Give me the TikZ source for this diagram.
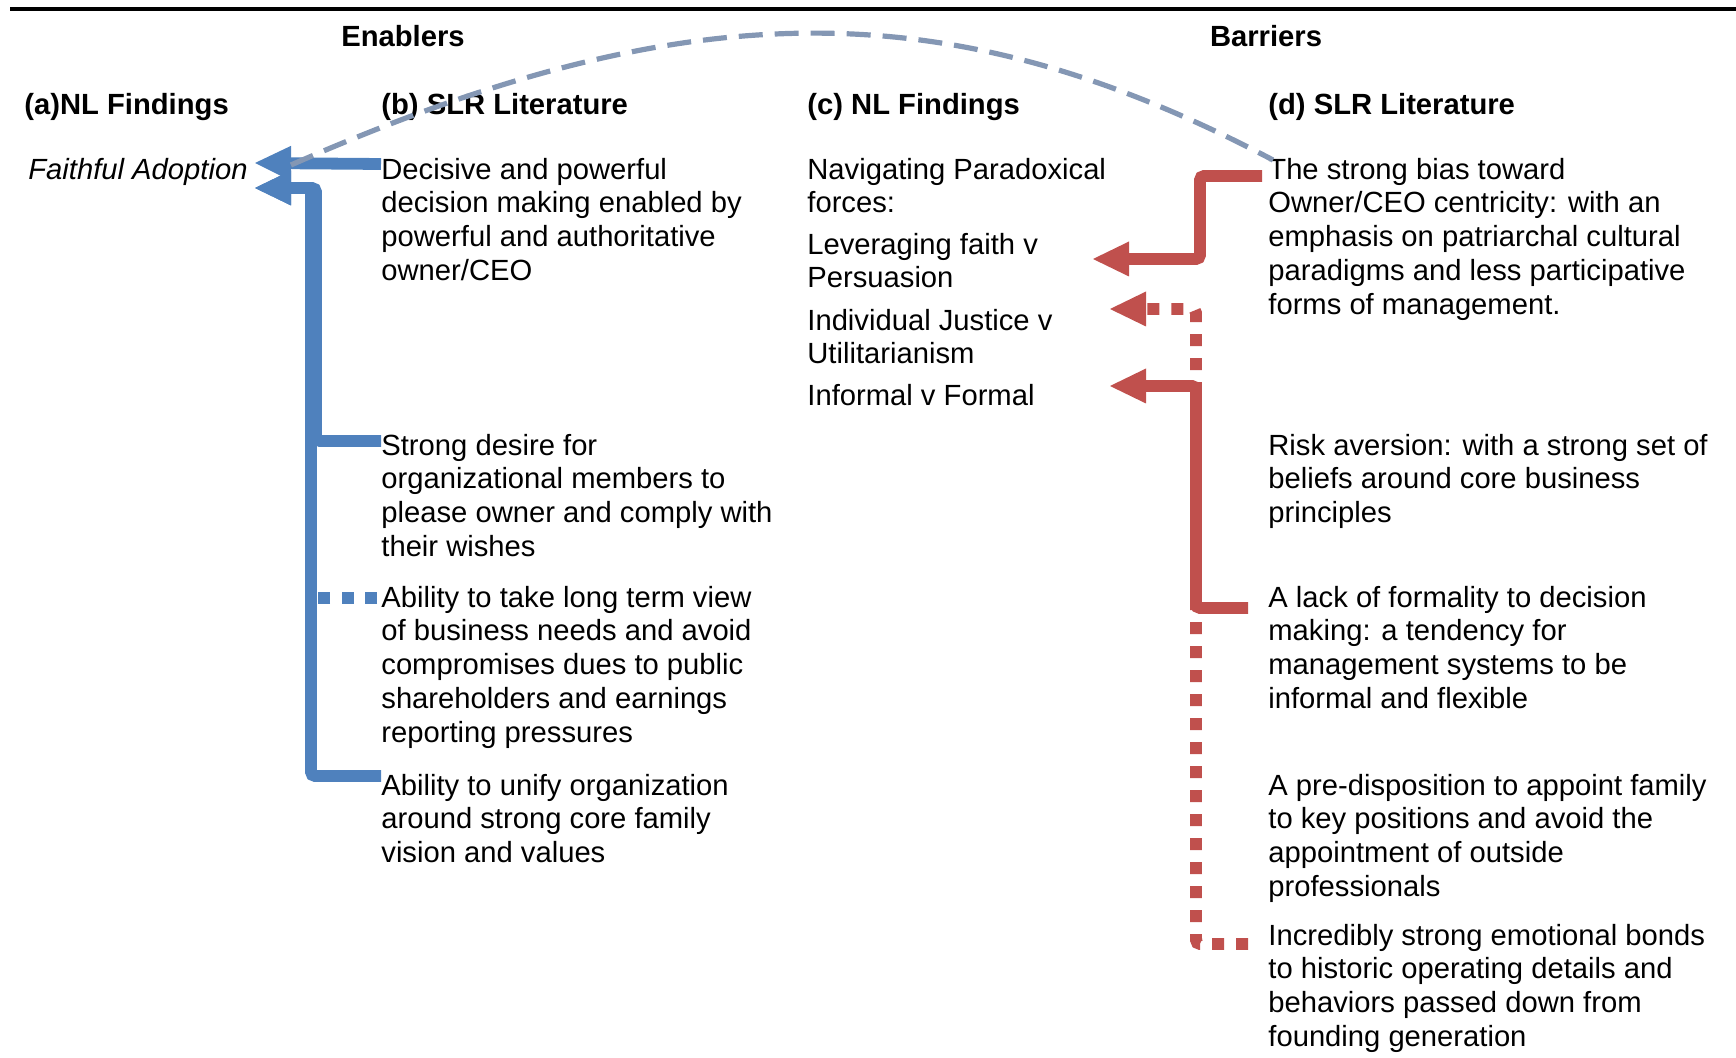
\documentclass[tikz,border=0pt]{standalone}
\usepackage{fontspec}
\setmainfont{Liberation Sans}
\usetikzlibrary{arrows.meta,calc}
\definecolor{enbl}{RGB}{79,129,189}
\definecolor{barr}{RGB}{192,80,77}
\definecolor{linkc}{RGB}{132,151,180}
\tikzset{
  txt/.style={anchor=north west, inner sep=0pt, align=left,
    font=\fontsize{14.6}{16.9}\selectfont},
  head/.style={txt, font=\fontsize{14.6}{16.9}\selectfont\bfseries},
  conn/.style={line width=5.9pt, rounded corners=2pt},
  tipA/.style={-{Triangle[length=18pt,width=17.5pt,line width=0pt]}},
  enarrow/.style={conn, enbl, tipA},
  endots/.style={conn, enbl, dash pattern=on 6pt off 5.75pt},
  bararrow/.style={conn, barr, tipA},
  bardots/.style={conn, barr, tipA, dash pattern=on 6pt off 6pt},
  linkcurve/.style={linkc, line width=2.6pt, dash pattern=on 12pt off 6pt}
}
\begin{document}
\begin{tikzpicture}[x=0.5pt, y=-0.5pt]
\useasboundingbox (0,0) rectangle (1736,1058);

% rule across the top
\draw[line width=1.8pt] (10,9) -- (1736,9);

% group titles
\node[head, anchor=north] (en) at (403,22) {\strut Enablers};
\node[head, anchor=north] (ba) at (1266,22) {\strut Barriers};

% column headings
\node[head] (ha) at (24,90)   {\strut (a)NL Findings};
\node[head] (hb) at (381,90)  {\strut (b) SLR Literature};
\node[head] (hc) at (807,90)  {\strut (c) NL Findings};
\node[head] (hd) at (1268,90) {\strut (d) SLR Literature};

% (a)
\node[txt, font=\fontsize{14.6}{16.9}\selectfont\itshape] (fa) at (28,155) {\strut Faithful Adoption};

% (b)
\node[txt] (b1) at (381,155) {\strut Decisive and powerful\\decision making enabled by\\powerful and authoritative\\owner/CEO};
\node[txt] (b2) at (381,431) {\strut Strong desire for\\organizational members to\\please owner and comply with\\their wishes};
\node[txt] (b3) at (381,583) {\strut Ability to take long term view\\of business needs and avoid\\compromises dues to public\\shareholders and earnings\\reporting pressures};
\node[txt] (b4) at (381,771) {\strut Ability to unify organization\\around strong core family\\vision and values};

% (c)
\node[txt] (c0) at (807,155) {\strut Navigating Paradoxical\\forces:};
\node[txt] (c1) at (807,230) {\strut Leveraging faith v\\Persuasion};
\node[txt] (c2) at (807,306) {\strut Individual Justice v\\Utilitarianism};
\node[txt] (c3) at (807,381) {\strut Informal v Formal};

% (d)
\node[txt] (d1) at (1268,155) {\strut The strong bias toward\\Owner/CEO centricity: with an\\emphasis on patriarchal cultural\\paradigms and less participative\\forms of management.};
\node[txt] (d2) at (1268,431) {\strut Risk aversion: with a strong set of\\beliefs around core business\\principles};
\node[txt] (d3) at (1268,583) {\strut A lack of formality to decision\\making: a tendency for\\management systems to be\\informal and flexible};
\node[txt] (d4) at (1268,771) {\strut A pre-disposition to appoint family\\to key positions and avoid the\\appointment of outside\\professionals};
\node[txt] (d5) at (1268,921) {\strut Incredibly strong emotional bonds\\to historic operating details and\\behaviors passed down from\\founding generation};

% arrow targets
\coordinate (tfa1) at (255,163);
\coordinate (tfa2) at (255,188);
\coordinate (tc1) at (1093,259);
\coordinate (tc2) at (1110,309);
\coordinate (tc3) at (1110,386);

% enablers feeding Faithful Adoption
\draw[enarrow] ($(b2.north west)+(0,10)$) -| ($(tfa2)+(61,0)$) -- (tfa2);
\draw[enarrow] ($(b4.north west)+(0,5)$) -| ($(tfa2)+(56,0)$) -- (tfa2);
\draw[endots] ($(b3.north west)+(-4,15)$) -- ++(-60,0);
\draw[enarrow] ($(b1.north west)+(0,9)$) -- (tfa1);

% barriers feeding the paradoxical forces
\draw[bardots] ($(d5.north west)+(-20,23)$) -| ($(tc2)+(86,0)$) -- (tc2);
\draw[bararrow] ($(d3.north west)+(-20,25)$) -| ($(tc3)+(86,0)$) -- (tc3);
\draw[bararrow] ($(d1.north west)+(-6,21)$) -| ($(tc1)+(107,0)$) -- (tc1);

% link between the two sides
\coordinate (ls) at ($(fa.north east)+(43,10)$);
\draw[linkcurve] (ls) .. controls (690,-10) and (950,-10) .. ($(d1.north west)+(5,5)$);
\end{tikzpicture}
\end{document}
